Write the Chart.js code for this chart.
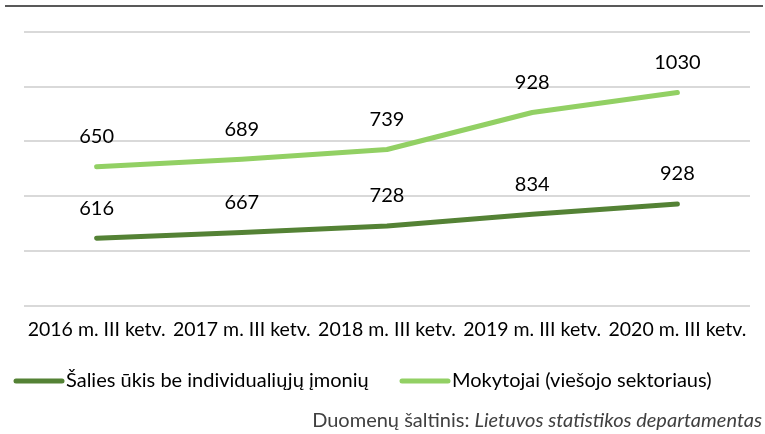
<!DOCTYPE html>
<html>
<head>
<meta charset="utf-8">
<script src="https://cdn.jsdelivr.net/npm/chart.js@4"></script>
<style>
html,body{margin:0;padding:0;background:#fff;}
#wrap{width:765px;height:434px;position:relative;}
</style>
</head>
<body>
<div id="wrap"><canvas id="c" width="765" height="434"></canvas></div>
<script>
const categories = ["2016 m. III ketv.", "2017 m. III ketv.", "2018 m. III ketv.", "2019 m. III ketv.", "2020 m. III ketv."];
const seriesNames = ["Šalies ūkis be individualiųjų įmonių", "Mokytojai (viešojo sektoriaus)"];
const economyValues = [616, 667, 728, 834, 928];
const teacherValues = [650, 689, 739, 928, 1030];
const sourceLabel = "Duomenų šaltinis: ";
const sourceName = "Lietuvos statistikos departamentas";

const FONT = "Lato, 'Open Sans', sans-serif";

const labelsPlugin = {
  id: 'valueLabels',
  afterDatasetsDraw(chart) {
    const ctx = chart.ctx;
    ctx.save();
    ctx.font = "20px " + FONT;
    ctx.fillStyle = "#000";
    ctx.textAlign = "center";
    ctx.textBaseline = "middle";
    chart.data.datasets.forEach((ds, i) => {
      const meta = chart.getDatasetMeta(i);
      meta.data.forEach((pt, j) => {
        ctx.fillText(String(ds.data[j]), pt.x, pt.y - 30);
      });
    });
    ctx.restore();
  }
};

// legend + frame + source note
const framePlugin = {
  id: 'frame',
  afterDraw(chart) {
    const ctx = chart.ctx;
    ctx.save();
    ctx.strokeStyle = "#595959";
    ctx.lineWidth = 2;
    ctx.beginPath();
    ctx.moveTo(5, 6);
    ctx.lineTo(763, 6);
    ctx.stroke();

    // legend
    const legendY = 381;
    const starts = [14, 400];
    ctx.font = "20px " + FONT;
    ctx.textBaseline = "middle";
    ctx.textAlign = "left";
    chart.data.datasets.forEach((ds, i) => {
      const x0 = starts[i];
      ctx.strokeStyle = ds.borderColor;
      ctx.lineWidth = 5;
      ctx.lineCap = 'round';
      ctx.beginPath();
      ctx.moveTo(x0 + 2, legendY);
      ctx.lineTo(x0 + 48, legendY);
      ctx.stroke();
      ctx.fillStyle = "#000";
      ctx.fillText(ds.label, x0 + 52, legendY);
    });

    // source note
    ctx.fillStyle = "#404040";
    ctx.font = "italic 20px " + FONT;
    const w2 = ctx.measureText(sourceName).width;
    const right = 762;
    ctx.textAlign = "right";
    ctx.fillText(sourceName, right, 421);
    ctx.font = "20px " + FONT;
    ctx.fillText(sourceLabel, right - w2, 421);
    ctx.restore();
  }
};

new Chart(document.getElementById('c'), {
  type: 'line',
  data: {
    labels: categories,
    datasets: [
      {
        label: seriesNames[0],
        data: economyValues,
        borderColor: "#548235",
        backgroundColor: "#548235",
        borderWidth: 5,
        borderCapStyle: 'round',
        borderJoinStyle: 'round',
        pointRadius: 0,
        tension: 0,
        yAxisID: 'y'
      },
      {
        label: seriesNames[1],
        data: teacherValues,
        borderColor: "#92d064",
        backgroundColor: "#92d064",
        borderWidth: 5,
        borderCapStyle: 'round',
        borderJoinStyle: 'round',
        pointRadius: 0,
        tension: 0,
        yAxisID: 'y1'
      }
    ]
  },
  options: {
    responsive: false,
    animation: false,
    devicePixelRatio: 1,
    layout: { padding: { top: 32, left: 24, right: 15, bottom: 89 } },
    plugins: {
      legend: { display: false },
      tooltip: { enabled: false }
    },
    scales: {
      x: {
        offset: true,
        grid: { display: false },
        border: { display: false },
        ticks: {
          color: '#000',
          font: { family: FONT, size: 19.5 },
          maxRotation: 0,
          autoSkip: false,
          padding: 4
        }
      },
      y: {
        min: 0,
        max: 2500,
        ticks: { display: false, stepSize: 500 },
        grid: { color: '#d9d9d9', lineWidth: 2, drawTicks: false },
        border: { display: false }
      },
      y1: {
        position: 'right',
        min: -60,
        max: 1340,
        display: false
      }
    }
  },
  plugins: [labelsPlugin, framePlugin]
});
</script>
</body>
</html>
